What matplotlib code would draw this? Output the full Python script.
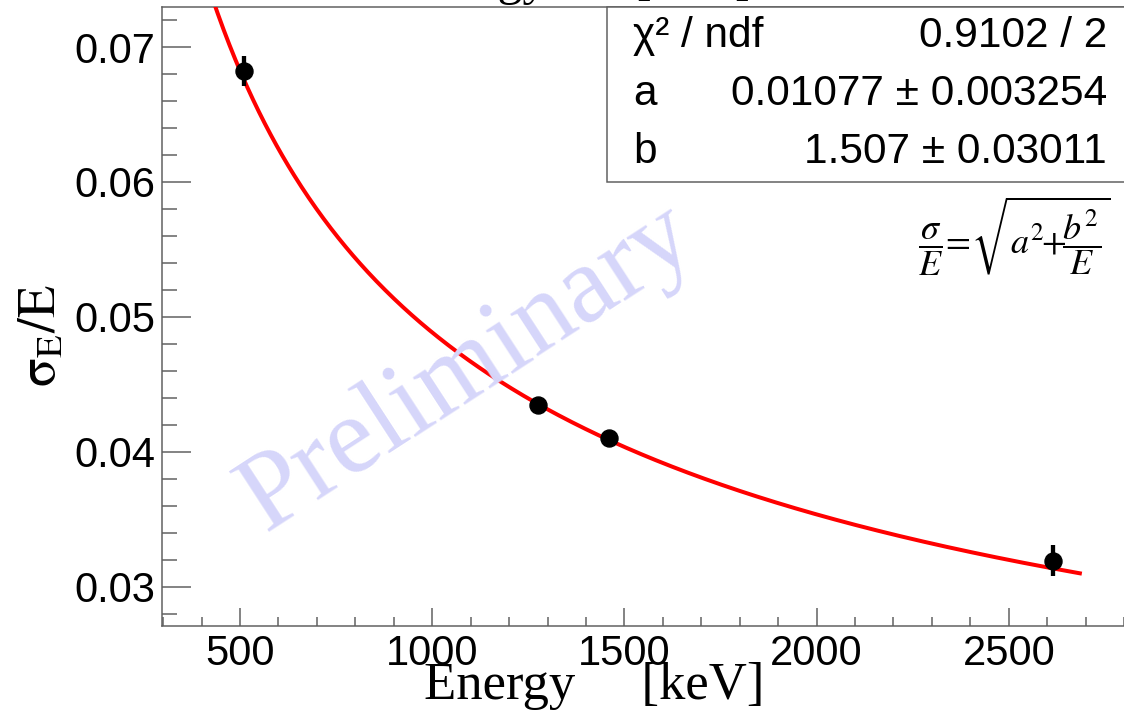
import numpy as np
import matplotlib
matplotlib.use("Agg")
import matplotlib.pyplot as plt
from matplotlib.patches import Rectangle
from matplotlib.ticker import MultipleLocator, FixedLocator

# Measured peaks: energy (keV), relative resolution sigma_E/E and its error
energy = [511, 1274, 1461, 2614]
resolution = [0.0682, 0.04348, 0.04101, 0.03195]
resolution_err = [0.0011, 0.0002, 0.0002, 0.00115]

# Fit sigma/E = sqrt(a^2 + b^2/E)
fit_a = 0.01077
fit_a_err = 0.003254
fit_b = 1.507
fit_b_err = 0.03011
chi2 = 0.9102
ndf = 2
fit_range = (400, 2690)

x_ticks = [500, 1000, 1500, 2000, 2500]
x_tick_labels = ["500", "1000", "1500", "2000", "2500"]
y_ticks = [0.03, 0.04, 0.05, 0.06, 0.07]
y_tick_labels = ["0.03", "0.04", "0.05", "0.06", "0.07"]

W, H = 1124, 712
fig = plt.figure(figsize=(W / 100, H / 100), dpi=100)
fig.patch.set_facecolor("white")


def fx(px):
    return px / W


def fy(py):
    return 1 - py / H


PT = 72 / 100  # points per pixel
SANS = "Liberation Sans"
SERIF = "Liberation Serif"
AXIS_GREY = "#5f5f5f"

ax = fig.add_axes([fx(162), fy(626), (1127 - 162) / W, (626 - 7) / H])
ax.set_xlim(297.1, 297.1 + 965 / 0.3844)
ax.set_ylim(0.027111, 0.072963)

# fitted curve
e = np.linspace(fit_range[0], fit_range[1], 600)
ax.plot(e, np.sqrt(fit_a ** 2 + fit_b ** 2 / e), color="#ff0000", lw=4 * PT,
        zorder=3, solid_capstyle="butt")

# data points with error bars
ax.errorbar(energy, resolution, yerr=resolution_err, fmt="o", color="black",
            ms=17 * PT, elinewidth=4.3 * PT, capsize=0, zorder=4)

# watermark
fig.text(fx(468), fy(368), "Preliminary", rotation=33,
         ha="center", va="center", fontsize=79, family=SERIF,
         color="#d6d6fa", zorder=0.5)

# axes styling
for side in ("left", "bottom", "top"):
    ax.spines[side].set_color(AXIS_GREY)
    ax.spines[side].set_linewidth(1.5 * PT)
ax.spines["right"].set_visible(False)
ax.patch.set_alpha(0)

ax.xaxis.set_major_locator(FixedLocator(x_ticks))
ax.set_xticklabels(x_tick_labels)
ax.xaxis.set_minor_locator(MultipleLocator(100))
ax.yaxis.set_major_locator(FixedLocator(y_ticks))
ax.set_yticklabels(y_tick_labels)
ax.yaxis.set_minor_locator(MultipleLocator(0.002))

ax.tick_params(axis="both", which="both", direction="in", color=AXIS_GREY,
               width=1.5 * PT, labelsize=30, labelcolor="black")
ax.tick_params(axis="x", which="major", length=18 * PT, pad=8 * PT)
ax.tick_params(axis="x", which="minor", length=9 * PT)
ax.tick_params(axis="y", which="major", length=29 * PT, pad=7 * PT)
ax.tick_params(axis="y", which="minor", length=15 * PT)
for lab in ax.get_xticklabels() + ax.get_yticklabels():
    lab.set_family(SANS)

# axis titles
fig.text(fx(424), fy(699), "Energy     [keV]", family=SERIF, fontsize=38,
         ha="left", va="baseline")
fig.text(fx(41), fy(336), r"$\mathrm{\sigma_{E}/E}$", fontsize=38,
         math_fontfamily="stix", rotation=90, ha="center", va="center")

# histogram title, mostly above the canvas
fig.text(fx(404), fy(-6), "Energy       [keV]", family=SERIF, fontsize=36,
         ha="left", va="baseline")

# fit statistics box
box = Rectangle((fx(607), fy(182)), fx(1140) - fx(607), (182 - 7) / H,
                transform=fig.transFigure, facecolor="white",
                edgecolor=AXIS_GREY, lw=1.5 * PT, zorder=5)
fig.add_artist(box)

rows = [
    ("\u03c7\u00b2 / ndf", f"{chi2:.4g} / {ndf}", 36),
    ("a", f"{fit_a:.4g} \u00b1 {fit_a_err:.4g}", 94),
    ("b", f"{fit_b:.4g} \u00b1 {fit_b_err:.4g}", 152),
]
for name, value, yc in rows:
    fig.text(fx(633), fy(yc), name, family=SANS, fontsize=30.5, ha="left",
             va="center", zorder=6)
    fig.text(fx(1107), fy(yc), value, family=SANS, fontsize=30.5, ha="right",
             va="center", zorder=6)

# fit function
fig.text(fx(1014), fy(236),
         r"$\dfrac{\sigma}{E}\!=\!\sqrt{a^2\!\!+\!\!\dfrac{b^2}{E}}$",
         math_fontfamily="stix", fontsize=26, ha="center", va="center")

fig.savefig("out.png", dpi=100)
